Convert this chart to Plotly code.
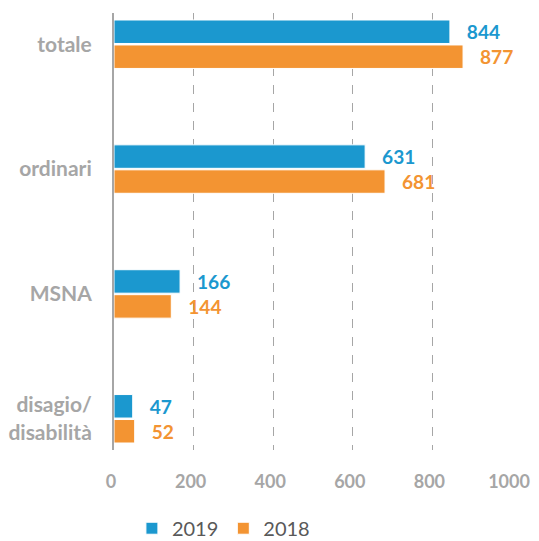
import plotly.graph_objects as go

categories = ["totale", "ordinari", "MSNA", "disagio/<br>disabilità"]
values_2019 = [844, 631, 166, 47]
values_2018 = [877, 681, 144, 52]
tick_vals = [0, 200, 400, 600, 800, 1000]

BLUE = "#1B98CF"
ORANGE = "#F39432"
GREY = "#A6A6A6"
FONT = "Lato"
PAD = "\u00a0\u00a0\u00a0"

fig = go.Figure()

for name, vals, col in [("2019", values_2019, BLUE), ("2018", values_2018, ORANGE)]:
    fig.add_trace(go.Bar(
        y=categories,
        x=vals,
        name=name,
        orientation="h",
        marker=dict(color=col, line=dict(color="white", width=1)),
        text=[PAD + str(v) for v in vals],
        textposition="outside",
        textfont=dict(family=FONT, size=22, color=col, weight="bold"),
        cliponaxis=False,
    ))

# page body has an 8px margin, so the figure is sized and offset to fit
fig.update_layout(
    width=523,
    height=533,
    margin=dict(l=106, r=19, t=5, b=91, autoexpand=False),
    plot_bgcolor="white",
    paper_bgcolor="white",
    barmode="group",
    bargap=0.6,
    bargroupgap=0.06,
    font=dict(family=FONT),
    showlegend=True,
    legend=dict(
        orientation="h",
        x=0.045,
        xanchor="left",
        y=-0.179,
        yanchor="middle",
        font=dict(family=FONT, size=20, color="#595959"),
        traceorder="normal",
    ),
)

fig.update_xaxes(
    range=[0, 1000],
    tickvals=tick_vals,
    showgrid=True,
    gridcolor="#A6A6A6",
    griddash="dash",
    gridwidth=1,
    zeroline=False,
    showline=False,
    automargin=False,
    ticklabelstandoff=19,
    ticklabelshift=-3,
    tickfont=dict(family=FONT, size=18, color=GREY, weight="bold"),
)

fig.update_yaxes(
    type="category",
    range=[3.25, -0.25],
    showline=True,
    linecolor="#A6A6A6",
    linewidth=2,
    showgrid=False,
    automargin=False,
    ticklabelstandoff=16,
    tickfont=dict(family=FONT, size=21, color=GREY, weight="bold"),
)

fig.write_html("out.html")
